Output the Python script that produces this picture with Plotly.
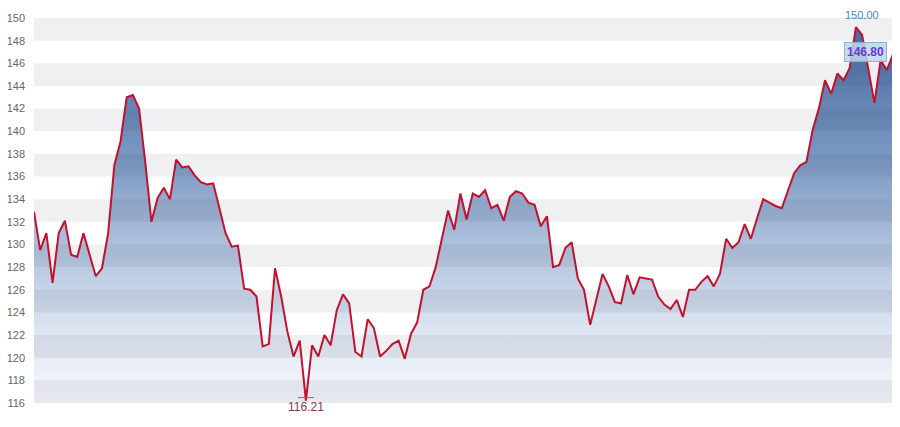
"""Price history area chart with striped background"""

import plotly.graph_objects as go

# closing prices, oldest first
prices = [
    132.9, 129.5, 131.0, 126.6, 131.0, 132.1, 129.1, 128.9, 131.0, 129.1,
    127.2, 127.9, 131.0, 137.0, 139.1, 143.0, 143.2, 142.0, 137.3, 132.0,
    134.1, 135.0, 134.0, 137.5, 136.8, 136.9, 136.1, 135.5, 135.3, 135.4,
    133.3, 131.0, 129.8, 129.9, 126.1, 126.0, 125.4, 121.0, 121.2, 127.9,
    125.4, 122.3, 120.1, 121.5,
    116.21, 121.1, 120.1, 122.0, 121.1, 124.2, 125.6, 124.8, 120.5, 120.1,
    123.4, 122.6, 120.1, 120.6, 121.2, 121.5, 119.9, 122.1, 123.1, 126.0,
    126.3, 128.0, 130.5, 133.0, 131.3, 134.5, 132.2, 134.5, 134.2, 134.8,
    133.2, 133.5, 132.1, 134.2, 134.7, 134.5, 133.7, 133.5, 131.6, 132.5,
    128.0, 128.2, 129.7, 130.2, 127.0, 126.0, 122.9, 125.1,
    127.4, 126.3, 124.9, 124.8, 127.3, 125.6, 127.1, 127.0, 126.9, 125.4,
    124.7, 124.3, 125.1, 123.6, 126.0, 126.0, 126.7, 127.2, 126.3, 127.4,
    130.5, 129.7, 130.2, 131.8, 130.5, 132.3, 134.0, 133.7, 133.4, 133.2,
    134.7, 136.3, 137.0, 137.3, 140.1, 142.0, 144.5, 143.3, 145.1, 144.5,
    145.6, 149.2, 148.5, 145.6, 142.5, 146.3, 145.4, 146.8,
]
days = list(range(len(prices)))

period_high = 150.00
period_low = 116.21
last_price = prices[-1]

y_min, y_max = 116, 150
tick_values = list(range(y_min, y_max + 1, 2))

LINE_RED = "#c8102e"
FONT = "Liberation Sans, Arial, sans-serif"

fig = go.Figure()
fig.add_trace(
    go.Scatter(
        x=days,
        y=prices,
        mode="lines",
        line=dict(color=LINE_RED, width=2),
        fill="tozeroy",
        fillgradient=dict(
            type="vertical",
            start=y_min,
            stop=y_max - 3,
            colorscale=[
                [0.0, "rgb(246,248,252)"],
                [0.2, "rgb(222,230,242)"],
                [0.45, "rgb(174,193,220)"],
                [0.7, "rgb(122,152,194)"],
                [1.0, "rgb(80,114,166)"],
            ],
        ),
        hoverinfo="x+y",
        showlegend=False,
    )
)

# alternating grey stripes laid over the plot, every other 2-point band
shapes = []
for low in range(y_min, y_max, 4):
    shapes.append(
        dict(
            type="rect", xref="paper", yref="y", x0=0, x1=1,
            y0=low, y1=low + 2, fillcolor="rgba(60,60,85,0.075)",
            line_width=0, layer="above",
        )
    )

i_high = prices.index(max(prices))
i_low = prices.index(min(prices))

# little marker lines next to the high / low labels
shapes.append(
    dict(
        type="line", xref="x", yref="y", xsizemode="pixel", ysizemode="pixel",
        xanchor=i_high, yanchor=y_max, x0=-1, x1=11, y0=0, y1=0,
        line=dict(color="#4a86b4", width=1),
    )
)
shapes.append(
    dict(
        type="line", xref="x", yref="y", xsizemode="pixel", ysizemode="pixel",
        xanchor=i_low, yanchor=period_low, x0=-8, x1=8, y0=3, y1=3,
        line=dict(color="#9a5a6c", width=1),
    )
)

annotations = [
    dict(
        x=i_high, y=y_max, xref="x", yref="y", text=f"{period_high:.2f}",
        showarrow=False, yanchor="bottom", xshift=6, yshift=-5,
        font=dict(family=FONT, size=11, color="#4a86b4"),
    ),
    dict(
        x=i_low, y=period_low, xref="x", yref="y", text=f"{period_low:.2f}",
        showarrow=False, yanchor="top", yshift=3,
        font=dict(family=FONT, size=12, color="#7b3b50"),
    ),
    dict(
        x=days[-1], y=last_price, xref="x", yref="y", text=f"<b>{last_price:.2f}</b>",
        showarrow=False, xanchor="right", xshift=-6, yshift=2,
        bgcolor="rgba(190,214,236,0.85)", bordercolor="#8fb0cc", borderwidth=1,
        borderpad=2, font=dict(family=FONT, size=12, color="#6a38d8"),
    ),
]

# the page body adds an 8px offset, so the figure is 8px smaller each way
fig.update_layout(
    width=892,
    height=419,
    margin=dict(l=26, r=7, t=10, b=24, autoexpand=False),
    paper_bgcolor="white",
    plot_bgcolor="white",
    shapes=shapes,
    annotations=annotations,
    font=dict(family=FONT, size=11, color="#666666"),
)
fig.update_xaxes(
    range=[0, len(prices) - 1],
    showgrid=False,
    zeroline=False,
    showticklabels=False,
    fixedrange=True,
)
fig.update_yaxes(
    range=[y_min, y_max],
    tickvals=tick_values,
    showgrid=False,
    zeroline=False,
    ticks="",
    ticklabelstandoff=8,
    tickfont=dict(family=FONT, size=11, color="#666666"),
)

fig.write_html("out.html")
